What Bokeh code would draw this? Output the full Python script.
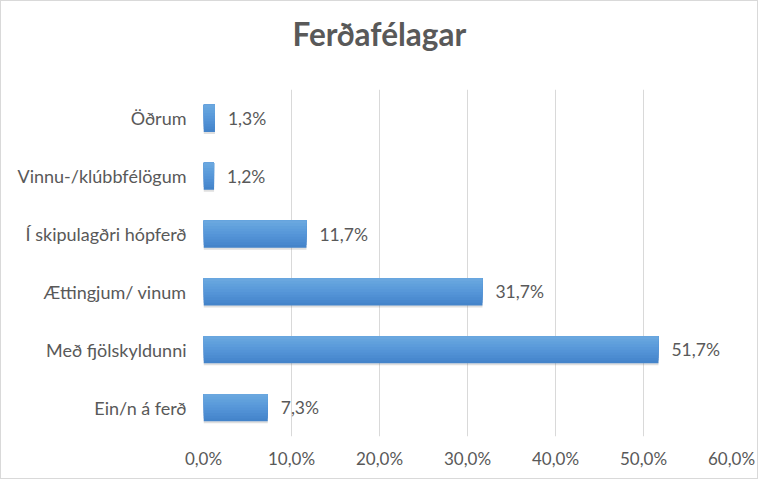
from bokeh.plotting import figure
from bokeh.models import FactorRange, Range1d, FixedTicker, ColumnDataSource, Title
from bokeh.transform import dodge
from bokeh.embed import file_html
from bokeh.resources import INLINE
from bokeh.core.properties import value

categories = ["Ein/n á ferð", "Með fjölskyldunni", "Ættingjum/ vinum",
              "Í skipulagðri hópferð", "Vinnu-/klúbbfélögum", "Öðrum"]
values = [7.3, 51.7, 31.7, 11.7, 1.2, 1.3]
labels = ["7,3%", "51,7%", "31,7%", "11,7%", "1,2%", "1,3%"]
tick_values = [0, 10, 20, 30, 40, 50, 60]
tick_labels = ["0,0%", "10,0%", "20,0%", "30,0%", "40,0%", "50,0%", "60,0%"]
chart_title = "Ferðafélagar"

FONT = "Lato"
TXT = "#595959"

src = ColumnDataSource(dict(cat=categories, val=values, lab=labels))

p = figure(width=758, height=479, y_range=FactorRange(*categories),
           x_range=Range1d(0, 60), output_backend="svg", toolbar_location=None,
           min_border_left=202, min_border_right=28, min_border_top=88, min_border_bottom=44)
p.styles = {"border": "1px solid #d9d9d9"}
p.outline_line_color = None
p.background_fill_color = "white"

# blank spacer panel between the frame and the title
spacer = Title(text=" ", text_font_size="10px", standoff=24, text_color="white")
p.add_layout(spacer, "above")
title = Title(text=chart_title, text_font=FONT, text_font_size="31.5px", text_color=TXT,
              text_font_style="bold", align="left", offset=89, standoff=0,
              vertical_align="bottom")
p.add_layout(title, "above")

BH = 0.47
# shadow
p.hbar(y=dodge("cat", -0.035, range=p.y_range), right="val", left=0, height=BH,
       source=src, fill_color="#7f7f7f", fill_alpha=0.25, line_color=None)
# gradient approximation: nested layers sharing the top edge
cols = ["#4484ca", "#4888ce", "#4c8cd1", "#5090d4", "#5494d7", "#5898d9",
        "#5c9cdb", "#60a0dc", "#65a4de", "#6aa7df"]
n = len(cols)
for i, c in enumerate(cols):
    h = BH * (n - i) / n
    off = BH / 2 - h / 2
    p.hbar(y=dodge("cat", off, range=p.y_range), right="val", left=0, height=h,
           source=src, fill_color=c, line_color=None)

p.text(x="val", y="cat", text="lab", source=src, x_offset=13, text_baseline="middle",
       text_font=value(FONT), text_font_size="17.5px", text_color=TXT)

p.xgrid.grid_line_color = "#d9d9d9"
p.ygrid.grid_line_color = None
p.xaxis.ticker = FixedTicker(ticks=tick_values)
p.xaxis.major_label_overrides = {v: l for v, l in zip(tick_values, tick_labels)}
p.xaxis.axis_line_color = None
p.xaxis.major_tick_line_color = None
p.xaxis.minor_tick_line_color = None
p.xaxis.major_label_text_font = FONT
p.xaxis.major_label_text_font_size = "17px"
p.xaxis.major_label_text_color = TXT
p.xaxis.major_label_standoff = 5

p.yaxis.axis_line_color = None
p.yaxis.major_tick_line_color = None
p.yaxis.major_label_text_font = FONT
p.yaxis.major_label_text_font_size = "18px"
p.yaxis.major_label_text_color = TXT
p.yaxis.major_label_standoff = 11

open("out.html", "w").write(file_html(p, INLINE))
